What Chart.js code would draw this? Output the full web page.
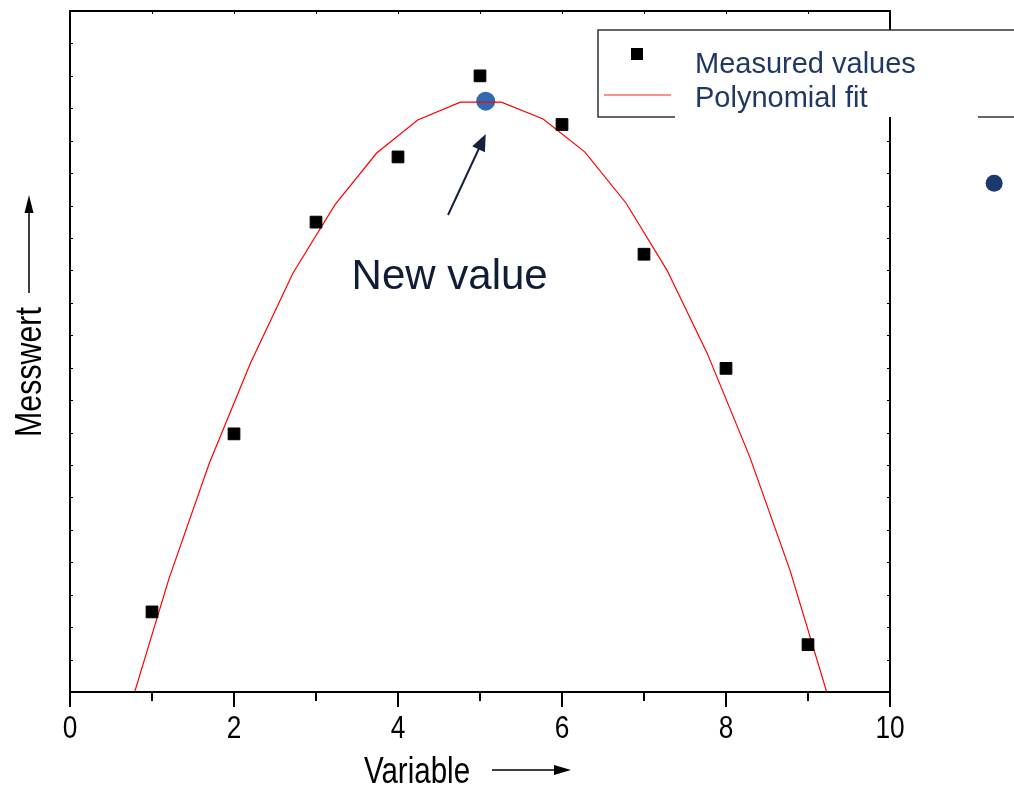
<!DOCTYPE html>
<html>
<head>
<meta charset="utf-8">
<script src="https://cdn.jsdelivr.net/npm/chart.js@4.4.1/dist/chart.umd.min.js"></script>
<style>
  html, body { margin: 0; padding: 0; background: #ffffff; }
  #wrap { width: 1014px; height: 788px; }
</style>
</head>
<body>
<div id="wrap"><canvas id="chart" width="1014" height="788"></canvas></div>
<script>
// Measured values
const measuredX = [1, 2, 3, 4, 5, 6, 7, 8, 9];
const measuredY = [2.47, 7.96, 14.49, 16.50, 19.00, 17.50, 13.50, 9.98, 1.46];

// Polynomial fit curve (vertices of the plotted polyline)
const fitX = [0.70, 1.21, 1.70, 2.20, 2.72, 3.23, 3.74, 4.24, 4.76, 5.26, 5.77, 6.28, 6.78, 7.28, 7.77, 8.29, 8.78, 9.29];
const fitY = [-0.74, 3.52, 7.06, 10.14, 12.92, 15.02, 16.62, 17.64, 18.19, 18.19, 17.67, 16.65, 15.08, 13.01, 10.45, 7.25, 3.76, -0.52];

// Highlighted new value and the stray point to the right of the frame
const newValueX = [5.07];
const newValueY = [18.22];
const outsideX = [11.27];
const outsideY = [15.69];

// Axis ticks
const xMajorTicks = [0, 2, 4, 6, 8, 10];
const xTickLabels = ['0', '2', '4', '6', '8', '10'];
const xMinorTicks = [1, 3, 5, 7, 9];
const yMinorTicks = [1, 2, 3, 4, 5, 6, 7, 8, 9, 10, 11, 12, 13, 14, 15, 16, 17, 18, 19, 20];

// Annotation arrow (data units)
const arrowFrom = [4.61, 14.71];
const arrowTo = [5.07, 17.21];
const annotationAt = [4.63, 12.77];

const SANS = "'Liberation Sans', Arial, sans-serif";
const NAVY = '#1f3864';
const NARROW_RATIO = 0.82;

const toPoints = (xs, ys) => xs.map((x, i) => ({ x: x, y: ys[i] }));

function arrowHead(ctx, tx, ty, angle, len, half) {
  ctx.save();
  ctx.translate(tx, ty);
  ctx.rotate(angle);
  ctx.beginPath();
  ctx.moveTo(0, 0);
  ctx.lineTo(-len, -half);
  ctx.lineTo(-len, half);
  ctx.closePath();
  ctx.fill();
  ctx.restore();
}

// condensed text: Arial-style glyphs squeezed along the writing direction
function narrowText(ctx, text, x, y, size, rotation) {
  ctx.save();
  ctx.translate(x, y);
  if (rotation) ctx.rotate(rotation);
  ctx.scale(NARROW_RATIO, 1);
  ctx.font = size + 'px ' + SANS;
  ctx.fillText(text, 0, 0);
  ctx.restore();
}

const framePlugin = {
  id: 'framePlugin',
  afterDatasetsDraw(chart) {
    const ctx = chart.ctx;
    const { left, right, top, bottom } = chart.chartArea;
    const xs = chart.scales.x, ys = chart.scales.y;
    ctx.save();

    // stray point beyond the right edge of the frame
    ctx.fillStyle = '#1b3a6b';
    ctx.beginPath();
    ctx.arc(xs.getPixelForValue(outsideX[0]), ys.getPixelForValue(outsideY[0]), 8.5, 0, Math.PI * 2);
    ctx.fill();

    // frame
    ctx.strokeStyle = '#000';
    ctx.lineWidth = 2;
    ctx.beginPath();
    ctx.rect(left, top, right - left, bottom - top);
    ctx.stroke();

    // bottom axis ticks (outward)
    ctx.beginPath();
    xMajorTicks.forEach(v => {
      const px = xs.getPixelForValue(v);
      ctx.moveTo(px, bottom); ctx.lineTo(px, bottom + 15);
    });
    xMinorTicks.forEach(v => {
      const px = xs.getPixelForValue(v);
      ctx.moveTo(px, bottom); ctx.lineTo(px, bottom + 9);
    });
    ctx.stroke();

    // small inner ticks on top, left and right sides
    ctx.lineWidth = 1;
    ctx.beginPath();
    xMajorTicks.concat(xMinorTicks).forEach(v => {
      const px = Math.round(xs.getPixelForValue(v)) + 0.5;
      ctx.moveTo(px, top); ctx.lineTo(px, top + 3);
    });
    yMinorTicks.forEach(v => {
      const py = Math.round(ys.getPixelForValue(v)) + 0.5;
      ctx.moveTo(left, py); ctx.lineTo(left + 3, py);
      ctx.moveTo(right, py); ctx.lineTo(right - 3, py);
    });
    ctx.stroke();

    // x tick labels
    ctx.fillStyle = '#000';
    ctx.textAlign = 'center';
    ctx.textBaseline = 'alphabetic';
    xMajorTicks.forEach((v, i) => {
      narrowText(ctx, xTickLabels[i], xs.getPixelForValue(v), 738, 32, 0);
    });

    // axis titles with arrows
    narrowText(ctx, 'Variable', 417, 783, 36, 0);
    ctx.strokeStyle = '#000';
    ctx.lineWidth = 1.5;
    ctx.beginPath(); ctx.moveTo(492, 770); ctx.lineTo(556, 770); ctx.stroke();
    arrowHead(ctx, 571, 770, 0, 17, 5);

    narrowText(ctx, 'Messwert', 41, 372, 37, -Math.PI / 2);
    ctx.beginPath(); ctx.moveTo(29, 293); ctx.lineTo(29, 210); ctx.stroke();
    arrowHead(ctx, 29, 195, -Math.PI / 2, 18, 4.5);

    // annotation: arrow and label
    const ax0 = xs.getPixelForValue(arrowFrom[0]), ay0 = ys.getPixelForValue(arrowFrom[1]);
    const ax1 = xs.getPixelForValue(arrowTo[0]), ay1 = ys.getPixelForValue(arrowTo[1]);
    const ang = Math.atan2(ay1 - ay0, ax1 - ax0);
    ctx.strokeStyle = '#16233d';
    ctx.fillStyle = '#16233d';
    ctx.lineWidth = 2;
    ctx.beginPath();
    ctx.moveTo(ax0, ay0);
    ctx.lineTo(ax1 - Math.cos(ang) * 12, ay1 - Math.sin(ang) * 12);
    ctx.stroke();
    arrowHead(ctx, ax1, ay1, ang, 17, 7);

    ctx.fillStyle = '#0f1d35';
    ctx.font = "42px " + SANS;
    ctx.textAlign = 'center';
    ctx.textBaseline = 'middle';
    ctx.fillText('New value', xs.getPixelForValue(annotationAt[0]), ys.getPixelForValue(annotationAt[1]));

    // legend box
    const bx = 598, by = 30, bb = 117, br = chart.width;
    ctx.fillStyle = '#fff';
    ctx.fillRect(bx, by, br - bx, bb - by);
    ctx.strokeStyle = '#333';
    ctx.lineWidth = 1.5;
    ctx.beginPath();
    ctx.moveTo(br, by); ctx.lineTo(bx, by); ctx.lineTo(bx, bb); ctx.lineTo(675, bb);
    ctx.moveTo(978, bb); ctx.lineTo(br, bb);
    ctx.stroke();

    ctx.fillStyle = '#000';
    ctx.fillRect(631, 48, 12, 12);
    ctx.strokeStyle = '#ff2020';
    ctx.lineWidth = 1.2;
    ctx.beginPath(); ctx.moveTo(604, 95); ctx.lineTo(671, 95); ctx.stroke();

    ctx.fillStyle = NAVY;
    ctx.font = "29px " + SANS;
    ctx.textAlign = 'left';
    ctx.textBaseline = 'alphabetic';
    ctx.fillText('Measured values', 695, 73);
    ctx.fillText('Polynomial fit', 695, 107);

    ctx.restore();
  }
};

new Chart(document.getElementById('chart'), {
  type: 'scatter',
  data: {
    datasets: [
      {
        label: 'Measured values',
        type: 'scatter',
        data: toPoints(measuredX, measuredY),
        pointStyle: 'rect',
        pointRadius: 8.3,
        pointBackgroundColor: '#000',
        pointBorderColor: '#000',
        pointBorderWidth: 1,
        order: 0
      },
      {
        label: 'Polynomial fit',
        type: 'line',
        data: toPoints(fitX, fitY),
        borderColor: '#ff0000',
        borderWidth: 1.2,
        pointRadius: 0,
        tension: 0,
        fill: false,
        order: 1
      },
      {
        label: 'New value',
        type: 'bubble',
        data: toPoints(newValueX, newValueY),
        radius: 9.5,
        backgroundColor: '#2e6bb5',
        borderColor: '#2e6bb5',
        borderWidth: 0,
        order: 2
      }
    ]
  },
  options: {
    responsive: false,
    animation: false,
    devicePixelRatio: 1,
    events: [],
    layout: { padding: { top: 11, right: 124, left: 0, bottom: 0 } },
    plugins: { legend: { display: false }, tooltip: { enabled: false }, title: { display: false } },
    scales: {
      x: {
        type: 'linear',
        min: 0,
        max: 10,
        afterBuildTicks: s => { s.ticks = xMajorTicks.map(v => ({ value: v })); },
        afterFit: s => { s.height = 96; },
        grid: { display: false, drawTicks: false },
        border: { display: false },
        ticks: { display: false }
      },
      y: {
        type: 'linear',
        min: 0,
        max: 21,
        afterFit: s => { s.width = 70; },
        grid: { display: false, drawTicks: false },
        border: { display: false },
        ticks: { display: false }
      }
    }
  },
  plugins: [framePlugin]
});
</script>
</body>
</html>
